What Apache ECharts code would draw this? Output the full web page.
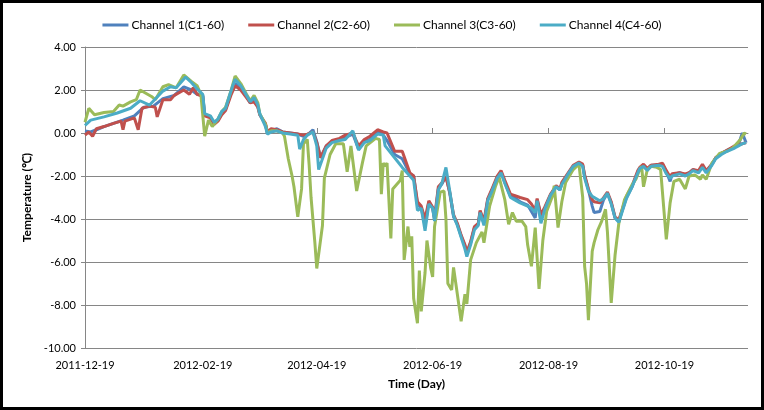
<!DOCTYPE html>
<html>
<head>
<meta charset="utf-8">
<script src="https://cdn.jsdelivr.net/npm/echarts@6/dist/echarts.min.js"></script>
<style>
html,body{margin:0;padding:0;background:#fff;}
#wrap{position:relative;width:764px;height:410px;}
#chart{position:absolute;left:0;top:0;width:764px;height:410px;}
#frame{position:absolute;left:0;top:0;width:764px;height:410px;box-sizing:border-box;border:3px solid #000;pointer-events:none;}
</style>
</head>
<body>
<div id="wrap"><div id="chart"></div><div id="frame"></div></div>
<script>
// Day offsets from 2011-12-19
const tickDays = [0, 62, 122, 183, 244, 305];
const tickLabels = ['2011-12-19','2012-02-19','2012-04-19','2012-06-19','2012-08-19','2012-10-19'];
const seriesNames = ['Channel 1(C1-60)','Channel 2(C2-60)','Channel 3(C3-60)','Channel 4(C4-60)'];

// [day, temperature]
const ch1 = [[0,0.1],[3,0.05],[6,0.15],[10,0.3],[15,0.45],[20,0.6],[26,0.8],[31,1.2],[36,1.25],[41,1.6],[47,1.75],[52,2.15],[56,2.0],[59,1.8],[62,1.75],[63,0.85],[66,0.75],[68,0.45],[70,0.6],[72,0.9],[74,1.1],[77,1.9],[79,2.3],[82,2.1],[85,1.7],[87,1.4],[89,1.6],[91,1.2],[92,0.85],[95,0.4],[96,0.0],[98,0.1],[101,0.2],[104,0.05],[108,0.0],[112,-0.05],[115,-0.15],[117,-0.1],[120,0.15],[122,-0.4],[124,-1.15],[127,-0.6],[130,-0.4],[134,-0.3],[137,-0.2],[141,-0.05],[144,-0.75],[147,-0.4],[150,-0.3],[154,0.1],[157,-0.1],[159,-0.35],[163,-1.0],[167,-1.2],[171,-1.9],[173,-2.0],[175,-3.3],[177,-3.5],[179,-4.3],[181,-3.2],[183,-3.5],[184,-4.05],[186,-2.6],[188,-2.35],[190,-2.0],[192,-2.8],[194,-3.9],[196,-4.25],[198,-4.8],[200,-5.25],[201,-5.6],[203,-5.1],[205,-4.4],[207,-4.25],[208,-3.65],[210,-4.2],[212,-3.1],[214,-2.7],[217,-2.1],[219,-1.8],[221,-2.3],[224,-2.95],[226,-3.0],[229,-3.2],[233,-3.35],[235,-3.65],[237,-3.95],[238,-3.1],[240,-3.85],[242,-3.5],[245,-2.9],[248,-2.5],[250,-2.65],[251,-2.35],[254,-1.95],[257,-1.55],[260,-1.4],[262,-1.5],[263,-2.0],[265,-2.65],[267,-3.4],[268,-3.7],[271,-3.65],[273,-3.1],[275,-2.8],[277,-3.25],[279,-3.95],[281,-4.1],[283,-3.55],[285,-3.0],[288,-2.5],[291,-1.8],[292,-1.65],[294,-1.55],[296,-1.7],[298,-1.5],[302,-1.5],[304,-1.45],[306,-1.8],[308,-2.25],[309,-1.95],[313,-1.85],[316,-1.95],[318,-1.85],[320,-1.7],[323,-1.8],[325,-1.55],[327,-1.8],[330,-1.45],[332,-1.15],[335,-0.95],[338,-0.8],[342,-0.65],[344,-0.55],[346,0.0],[348,-0.45]];

const ch2 = [[0,-0.1],[2,0.05],[4,-0.15],[6,0.2],[10,0.3],[15,0.45],[19,0.55],[20,0.15],[21,0.55],[26,0.7],[28,0.15],[30,1.15],[34,1.25],[37,1.2],[38,0.75],[41,1.55],[45,1.55],[47,1.75],[52,2.0],[55,1.8],[57,2.1],[59,1.8],[62,1.7],[63,0.8],[66,0.7],[68,0.4],[70,0.55],[72,0.85],[74,1.05],[77,1.8],[79,2.2],[82,2.0],[85,1.65],[87,1.4],[89,1.45],[91,1.2],[92,0.85],[95,0.45],[96,0.05],[98,0.2],[101,0.15],[104,0.05],[108,0.0],[112,-0.05],[115,-0.1],[117,-0.05],[120,0.05],[122,-0.45],[124,-1.15],[127,-0.6],[130,-0.35],[134,-0.25],[137,-0.1],[141,0.0],[144,-0.6],[147,-0.3],[150,-0.15],[154,0.15],[157,0.05],[159,0.0],[163,-0.85],[167,-0.85],[171,-1.85],[173,-2.0],[175,-3.2],[177,-3.4],[179,-4.0],[181,-3.15],[183,-3.45],[184,-3.95],[186,-2.5],[188,-2.3],[190,-2.05],[192,-2.75],[194,-3.8],[196,-4.2],[198,-4.75],[200,-5.2],[201,-5.55],[203,-5.05],[205,-4.35],[207,-4.2],[208,-3.6],[210,-4.1],[212,-3.05],[214,-2.65],[217,-2.0],[219,-1.75],[221,-2.2],[224,-2.85],[226,-2.9],[229,-3.0],[233,-3.1],[235,-3.3],[237,-3.6],[238,-3.05],[240,-3.8],[242,-3.45],[245,-2.85],[248,-2.45],[250,-2.6],[251,-2.3],[254,-1.9],[257,-1.5],[260,-1.35],[262,-1.45],[263,-1.95],[265,-2.6],[267,-3.1],[268,-3.2],[271,-3.25],[273,-3.0],[275,-2.75],[277,-3.2],[279,-3.9],[281,-4.05],[283,-3.5],[285,-2.95],[288,-2.45],[291,-1.75],[292,-1.6],[294,-1.45],[296,-1.65],[298,-1.5],[302,-1.45],[304,-1.4],[306,-1.75],[308,-2.05],[309,-1.9],[313,-1.85],[316,-1.9],[318,-1.85],[320,-1.7],[323,-1.75],[325,-1.45],[327,-1.75],[330,-1.45],[332,-1.15],[335,-0.95],[338,-0.8],[342,-0.6],[344,-0.55],[346,-0.5],[348,-0.45]];

const ch3 = [[0,0.5],[2,1.15],[5,0.85],[10,0.95],[15,1.0],[18,1.3],[20,1.25],[24,1.45],[27,1.55],[29,2.0],[32,1.85],[35,1.7],[37,1.55],[41,2.15],[44,2.25],[48,2.1],[52,2.7],[56,2.4],[59,2.2],[61,1.8],[63,-0.15],[65,0.6],[67,0.3],[70,0.65],[72,1.0],[74,1.2],[77,2.0],[79,2.65],[82,2.3],[85,1.8],[87,1.5],[89,1.75],[91,1.4],[92,0.9],[95,0.4],[96,0.0],[98,0.1],[101,0.1],[104,0.0],[105,-0.15],[107,-1.2],[109,-2.0],[110,-2.5],[112,-3.9],[114,-2.6],[115,-0.5],[117,-0.3],[118,-1.5],[119,-3.0],[121,-5.1],[122,-6.3],[125,-4.3],[126,-2.1],[129,-1.0],[132,-0.5],[136,-0.5],[138,-1.8],[140,-0.6],[141,-1.3],[143,-2.7],[146,-1.4],[148,-0.6],[153,-0.25],[155,-0.3],[156,-2.85],[157,-1.4],[158,-1.55],[159,-1.4],[161,-4.9],[162,-2.6],[166,-2.2],[167,-1.75],[168,-5.9],[170,-4.35],[171,-5.3],[172,-4.8],[173,-7.7],[175,-8.85],[176,-6.4],[177,-8.3],[179,-6.5],[180,-5.0],[182,-6.3],[183,-6.7],[184,-4.35],[187,-2.75],[189,-2.7],[190,-4.0],[191,-7.0],[193,-7.3],[194,-6.25],[196,-7.5],[198,-8.76],[200,-7.5],[201,-7.95],[203,-5.9],[206,-5.1],[209,-4.6],[210,-5.1],[213,-3.4],[216,-2.5],[218,-2.05],[221,-3.1],[223,-4.25],[225,-3.7],[227,-4.1],[230,-4.1],[232,-4.35],[233,-5.2],[235,-6.2],[237,-4.4],[239,-7.25],[241,-5.0],[243,-3.65],[246,-2.95],[247,-2.45],[249,-4.4],[251,-3.2],[253,-2.3],[257,-1.7],[260,-1.45],[262,-3.0],[263,-6.2],[264,-7.0],[265,-8.7],[267,-5.5],[268,-5.1],[270,-4.5],[272,-4.1],[274,-3.55],[275,-4.6],[277,-7.9],[279,-5.7],[281,-4.2],[284,-3.1],[288,-2.4],[290,-2.15],[292,-1.7],[293,-1.55],[294,-2.5],[296,-1.7],[298,-1.55],[301,-1.6],[303,-1.7],[306,-4.95],[308,-3.25],[310,-2.25],[313,-2.15],[316,-2.6],[318,-2.0],[321,-1.95],[324,-2.15],[325,-1.95],[327,-2.15],[330,-1.4],[334,-0.95],[338,-0.85],[341,-0.7],[345,-0.3],[347,0.0],[348,-0.05]];

const ch4 = [[0,0.35],[3,0.6],[10,0.75],[17,0.93],[24,1.15],[29,1.5],[34,1.3],[41,1.95],[45,2.15],[48,2.1],[53,2.6],[56,2.35],[59,2.05],[62,1.8],[63,0.9],[66,0.8],[68,0.5],[70,0.65],[72,1.0],[74,1.15],[77,2.0],[79,2.5],[82,2.2],[85,1.75],[87,1.45],[89,1.65],[91,1.3],[92,0.9],[95,0.3],[96,-0.05],[98,0.05],[101,0.1],[104,0.0],[108,-0.05],[112,-0.1],[113,-0.75],[115,-0.3],[117,-0.1],[120,0.05],[122,-0.6],[123,-1.7],[127,-0.7],[130,-0.45],[134,-0.35],[137,-0.3],[141,0.1],[144,-0.8],[147,-0.45],[150,-0.35],[154,-0.05],[157,-0.1],[158,-0.6],[163,-1.15],[167,-1.6],[171,-2.0],[173,-2.2],[175,-3.6],[177,-3.5],[179,-4.55],[181,-3.3],[183,-3.5],[184,-4.1],[186,-2.65],[188,-2.3],[190,-1.6],[192,-2.7],[194,-3.85],[196,-4.3],[198,-4.85],[200,-5.4],[201,-5.75],[203,-5.2],[205,-4.5],[207,-4.3],[208,-3.7],[210,-4.3],[212,-3.15],[214,-2.75],[217,-2.1],[219,-1.85],[221,-2.35],[224,-3.0],[226,-3.1],[229,-3.25],[233,-3.4],[235,-3.5],[237,-3.7],[238,-3.15],[240,-4.2],[242,-3.55],[245,-2.9],[248,-2.5],[250,-2.65],[251,-2.4],[254,-1.95],[257,-1.55],[260,-1.4],[262,-1.55],[263,-2.1],[265,-2.7],[267,-2.95],[268,-3.0],[271,-3.15],[273,-3.05],[275,-2.8],[277,-3.3],[279,-3.95],[281,-4.15],[283,-3.6],[285,-3.05],[288,-2.5],[291,-1.85],[292,-1.65],[294,-1.55],[296,-1.75],[298,-1.55],[302,-1.5],[304,-1.55],[306,-1.9],[308,-2.1],[309,-2.0],[313,-1.9],[316,-2.0],[318,-1.9],[320,-1.75],[323,-1.85],[325,-1.6],[327,-1.85],[330,-1.5],[332,-1.2],[335,-1.0],[338,-0.85],[342,-0.7],[344,-0.6],[346,-0.5],[348,-0.45]];

const colors = ['#4F81BD','#C0504D','#9BBB59','#4BACC6'];
const allData = [ch1, ch2, ch3, ch4];
const FONT = 'Lato';

const chart = echarts.init(document.getElementById('chart'), null, {renderer:'canvas'});
chart.setOption({
  animation: false,
  color: colors,
  textStyle: {fontFamily: FONT},
  legend: {
    top: 14, left: 'center',
    icon: 'rect',
    itemWidth: 26, itemHeight: 3, itemGap: 24,
    textStyle: {fontFamily: FONT, fontSize: 12, color: '#000', padding: [0,0,0,-2]},
    data: seriesNames
  },
  grid: {left: 85, right: 16, top: 47, bottom: 62, containLabel: false},
  xAxis: {
    type: 'value', min: 0, max: 349,
    name: 'Time (Day)', nameLocation: 'middle', nameGap: 30,
    nameTextStyle: {fontFamily: FONT, fontSize: 12, fontWeight: 'bold', color: '#000'},
    axisLine: {show: true, lineStyle: {color: '#868686', width: 1}},
    axisTick: {show: true, inside: true, length: 5, lineStyle: {color: '#868686'}, customValues: tickDays},
    axisLabel: {show: true, margin: 12, fontFamily: FONT, fontSize: 11, color: '#000',
      customValues: tickDays,
      formatter: function(v){ const i = tickDays.indexOf(Math.round(v)); return i >= 0 ? tickLabels[i] : ''; }},
    splitLine: {show: false}
  },
  yAxis: {
    type: 'value', min: -10, max: 4, interval: 2,
    name: 'Temperature (\u2103)', nameLocation: 'middle', nameGap: 52, nameRotate: 90,
    nameTextStyle: {fontFamily: FONT, fontSize: 12, fontWeight: 'bold', color: '#000'},
    axisLine: {show: true, lineStyle: {color: '#868686', width: 1}},
    axisTick: {show: true, inside: false, length: 4, lineStyle: {color: '#868686'}},
    axisLabel: {margin: 9, fontFamily: FONT, fontSize: 11, color: '#000',
      formatter: function(v){ return v.toFixed(2); }},
    splitLine: {show: true, lineStyle: {color: '#868686', width: 1}}
  },
  series: allData.map(function(d, i){
    return {
      name: seriesNames[i], type: 'line', data: d,
      symbol: 'none', showSymbol: false, smooth: false,
      lineStyle: {width: 3, color: colors[i]},
      itemStyle: {color: colors[i]}
    };
  })
});
</script>
</body>
</html>
